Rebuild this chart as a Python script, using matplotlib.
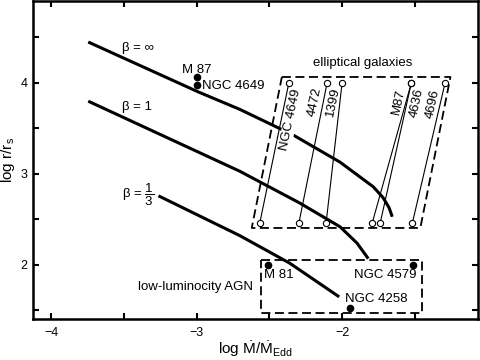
import matplotlib
matplotlib.use("Agg")
import matplotlib.pyplot as plt
import numpy as np

plt.rcParams['font.family'] = 'Liberation Sans'
plt.rcParams['mathtext.fontset'] = 'custom'
plt.rcParams['mathtext.rm'] = 'Liberation Sans'
plt.rcParams['mathtext.it'] = 'Liberation Sans:italic'

######## model curves: log Mdot/Mdot_Edd vs log r/r_s ########
binf_x = [-3.745, -2.986, -2.703, -2.338, -2.014, -1.786, -1.718, -1.677, -1.655]
binf_y = [4.45, 3.90, 3.71, 3.43, 3.13, 2.86, 2.74, 2.63, 2.53]

b1_x = [-3.745, -2.703, -2.29, -2.014, -1.897, -1.82]
b1_y = [3.80, 3.03, 2.68, 2.42, 2.24, 2.07]

b13_x = [-3.262, -2.70, -2.36, -2.02]
b13_y = [2.76, 2.32, 2.02, 1.65]

######## elliptical galaxies (open circles joined by thin lines) ########
ell_names = ['NGC 4649', '4472', '1399', 'M87', '4636', '4696']
ell_x_top = [-2.366, -2.103, -2.0, -1.524, -1.524, -1.292]
ell_x_bot = [-2.566, -2.297, -2.11, -1.793, -1.738, -1.517]
ell_y_top = 4.0
ell_y_bot = 2.46
ell_lab_x = [-2.357, -2.186, -2.062, -1.608, -1.485, -1.375]
ell_lab_y = [3.59, 3.79, 3.79, 3.79, 3.78, 3.77]

# parallelogram round them
ebox_x = [-2.414, -1.255, -1.462, -2.621, -2.414]
ebox_y = [4.066, 4.066, 2.407, 2.407, 4.066]

######## filled points ########
pt_names = ['M 87', 'NGC 4649', 'M 81', 'NGC 4579', 'NGC 4258']
pt_x = [-3.0, -3.0, -2.51, -1.51, -1.945]
pt_y = [4.07, 3.98, 2.0, 2.0, 1.53]

# low-luminosity AGN box
abox_x = [-2.559, -1.448, -1.448, -2.559, -2.559]
abox_y = [2.055, 2.055, 1.473, 1.473, 2.055]

fs = 9.5

fig = plt.figure(figsize=(4.8, 3.6), dpi=100)
ax = fig.add_axes([0.069, 0.114, 0.927, 0.883])

ax.plot(binf_x, binf_y, color='k', lw=2.2, solid_capstyle='butt', zorder=2)
ax.plot(b1_x, b1_y, color='k', lw=2.2, solid_capstyle='butt', zorder=2)
ax.plot(b13_x, b13_y, color='k', lw=2.2, solid_capstyle='butt', zorder=2)

for i in range(len(ell_names)):
    ax.plot([ell_x_top[i], ell_x_bot[i]], [ell_y_top, ell_y_bot], color='k', lw=0.8, zorder=3)
ax.plot(ell_x_top, [ell_y_top]*len(ell_x_top), 'o', ms=4.5, mfc='white', mec='k', mew=0.8, zorder=4)
ax.plot(ell_x_bot, [ell_y_bot]*len(ell_x_bot), 'o', ms=4.5, mfc='white', mec='k', mew=0.8, zorder=4)

for i in range(len(ell_names)):
    if i == 0:
        ax.text(ell_lab_x[i], ell_lab_y[i], ell_names[i], rotation=78, fontsize=fs,
                ha='center', va='center', rotation_mode='anchor', zorder=3,
                bbox=dict(facecolor='white', edgecolor='none', pad=0.5))
    else:
        ax.text(ell_lab_x[i], ell_lab_y[i], ell_names[i], rotation=78, fontsize=fs,
                ha='center', va='center', rotation_mode='anchor', zorder=3)

ax.plot(ebox_x, ebox_y, color='k', lw=1.3, ls=(0, (5, 2.5)), zorder=1)
ax.plot(abox_x, abox_y, color='k', lw=1.3, ls=(0, (5, 2.5)), zorder=1)

ax.plot(pt_x, pt_y, 'o', ms=4.5, color='k', zorder=5)

ax.text(-3.0, 4.075, 'M 87', fontsize=fs, ha='center', va='bottom')
ax.text(-2.96, 3.965, 'NGC 4649', fontsize=fs, ha='left', va='center')
ax.text(-2.535, 1.955, 'M 81', fontsize=fs, ha='left', va='top')
ax.text(-1.49, 1.955, 'NGC 4579', fontsize=fs, ha='right', va='top')
ax.text(-1.98, 1.63, 'NGC 4258', fontsize=fs, ha='left', va='center')
ax.text(-3.01, 1.76, 'low-luminocity AGN', fontsize=fs, ha='center', va='center')
ax.text(-1.855, 4.22, 'elliptical galaxies', fontsize=fs, ha='center', va='center')

ax.text(-3.51, 4.38, '\u03b2 = \u221e', fontsize=fs, ha='left', va='center')
ax.text(-3.51, 3.74, '\u03b2 = 1', fontsize=fs, ha='left', va='center')
ax.text(-3.51, 2.77, '\u03b2 = $\\dfrac{1}{3}$', fontsize=fs, ha='left', va='center')

ax.set_xlim(-4.124, -1.065)
ax.set_ylim(1.407, 4.90)
ax.set_xticks([-4, -3, -2])
ax.set_xticklabels(['\u22124', '\u22123', '\u22122'])
ax.set_xticks([-3.5, -2.5, -1.5], minor=True)
ax.set_yticks([2, 3, 4])
ax.set_yticks([1.5, 2.5, 3.5, 4.5], minor=True)
ax.tick_params(which='both', direction='in', top=True, right=True, length=4.5, width=1.5, labelsize=9)
ax.tick_params(axis='x', pad=6)
ax.tick_params(axis='y', pad=4)
for s in ax.spines.values():
    s.set_linewidth(1.8)

ax.set_xlabel(r'log $\dot{\rm M}/\dot{\rm M}_{\rm Edd}$', fontsize=11)
ax.set_ylabel(r'log r/r$_{\rm s}$', fontsize=11)
ax.xaxis.set_label_coords(0.5, -0.062)
ax.xaxis.label.set_va('top')
ax.yaxis.set_label_coords(-0.036, 0.5)

fig.savefig('out.png', dpi=100)
